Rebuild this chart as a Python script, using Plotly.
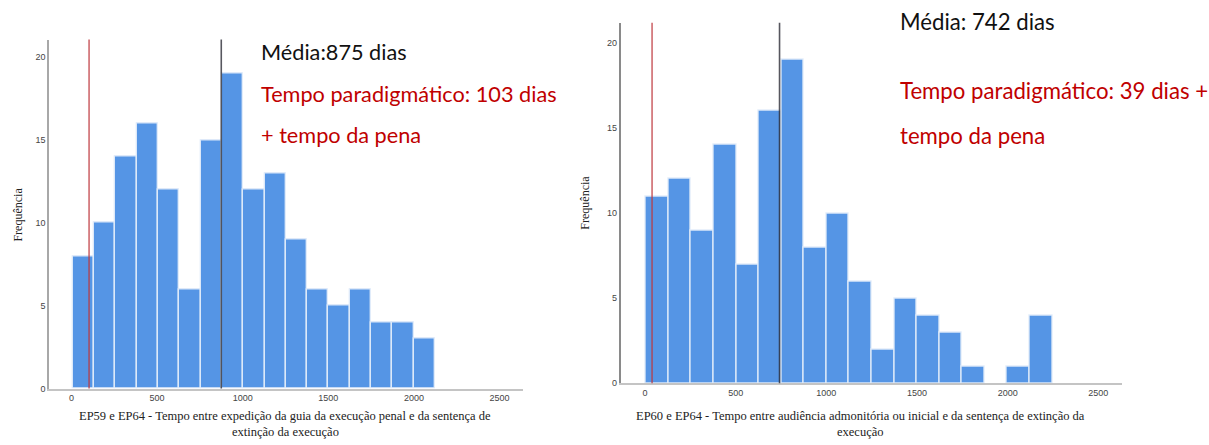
import plotly.graph_objects as go

# EP59 e EP64 - frequency per bin of days
left_counts = [8, 10, 14, 16, 12, 6, 15, 19, 12, 13, 9, 6, 5, 6, 4, 4, 3]
left_bin_start = 7
left_bin_width = 124.5
left_mean = 875
left_paradigm = 103

# EP60 e EP64 - frequency per bin of days
right_counts = [11, 12, 9, 14, 7, 16, 19, 8, 10, 6, 2, 5, 4, 3, 1, 0, 1, 4]
right_bin_start = 5
right_bin_width = 124.5
right_mean = 742
right_paradigm = 39

x_ticks = [0, 500, 1000, 1500, 2000, 2500]
y_ticks = [0, 5, 10, 15, 20]

left_xtitle = ["EP59 e EP64 - Tempo entre expedição da guia da execução penal e da sentença de",
               "extinção da execução"]
right_xtitle = ["EP60 e EP64 - Tempo entre audiência admonitória ou inicial e da sentença de extinção da",
                "execução"]
y_title = "Frequência"

W, H = 1209, 445
BAR = "#5595e5"
EDGE = "rgba(225,236,250,0.95)"
SERIF = "Liberation Serif"
SANS = "Liberation Sans"
NOTE = "Lato"


def bars(counts, start, width, xa, ya):
    xs, ys = [], []
    for i, c in enumerate(counts):
        if c > 0:
            xs.append(start + (i + 0.5) * width)
            ys.append(c)
    return go.Bar(x=xs, y=ys, width=width, xaxis=xa, yaxis=ya,
                  marker=dict(color=BAR, line=dict(color=EDGE, width=1.4)),
                  showlegend=False, hoverinfo="x+y")


fig = go.Figure()
fig.add_trace(bars(left_counts, left_bin_start, left_bin_width, "x", "y"))
fig.add_trace(bars(right_counts, right_bin_start, right_bin_width, "x2", "y2"))

tickfont = dict(family=SANS, size=9, color="#444444")
common_x = dict(showgrid=False, zeroline=False, showline=True, linecolor="#c4c4c4",
                linewidth=2, tickvals=x_ticks, ticks="", tickfont=tickfont, fixedrange=True)
common_y = dict(showgrid=False, zeroline=False, showline=True, linewidth=1.6,
                tickvals=y_ticks, ticks="", tickfont=tickfont, fixedrange=True)

fig.update_layout(
    width=W, height=H,
    margin=dict(l=0, r=0, t=0, b=0),
    paper_bgcolor="white", plot_bgcolor="white",
    bargap=0,
    xaxis=dict(domain=[49 / W, 523 / W], range=[-131, 2637], anchor="y", **common_x),
    yaxis=dict(domain=[52 / H, 405 / H], range=[0, 21.07], anchor="x",
               linecolor="#a8a8a8", **common_y),
    xaxis2=dict(domain=[620.7 / W, 1121.7 / W], range=[-134, 2629], anchor="y2", **common_x),
    yaxis2=dict(domain=[57.3 / H, 422 / H], range=[0, 21.2], anchor="x2",
                linecolor="#8a8a8a", **common_y),
)

# reference lines: paradigmatic time (red) and mean (dark)
for xref, yref, para, mean in [("x", "y domain", left_paradigm, left_mean),
                               ("x2", "y2 domain", right_paradigm, right_mean)]:
    fig.add_shape(type="line", xref=xref, yref=yref, x0=para, x1=para, y0=0, y1=1,
                  line=dict(color="rgba(190,55,60,0.75)", width=1.6))
    fig.add_shape(type="line", xref=xref, yref=yref, x0=mean, x1=mean, y0=0, y1=1,
                  line=dict(color="rgba(45,45,55,0.8)", width=1.6))


def note(text, x, y, color, size):
    fig.add_annotation(text=text, xref="paper", yref="paper", x=x / W, y=1 - y / H,
                       xanchor="left", yanchor="middle", showarrow=False,
                       font=dict(family=NOTE, size=size, color=color))


note("Média:875 dias", 259, 53, "#111111", 21.7)
note("Tempo paradigmático: 103 dias", 259, 95, "#c00000", 21.7)
note("+ tempo da pena", 259, 137, "#c00000", 21.7)
note("Média: 742 dias", 898, 22, "#111111", 22.2)
note("Tempo paradigmático: 39 dias +", 898, 92, "#c00000", 22.2)
note("tempo da pena", 898, 137, "#c00000", 22.2)

# axis titles
for x, y in [(18, 217), (585, 205)]:
    fig.add_annotation(text=y_title, xref="paper", yref="paper", x=x / W, y=1 - y / H,
                       xanchor="center", yanchor="middle", showarrow=False, textangle=-90,
                       font=dict(family=SERIF, size=12, color="#222222"))
for lines, x in [(left_xtitle, 285), (right_xtitle, 861)]:
    for line, y in zip(lines, (420.5, 436.5)):
        fig.add_annotation(text=line, xref="paper", yref="paper", x=x / W, y=1 - y / H,
                           xanchor="center", yanchor="middle", showarrow=False, borderpad=0,
                           font=dict(family=SERIF, size=12.5, color="#222222"))

fig.write_html("out.html")
